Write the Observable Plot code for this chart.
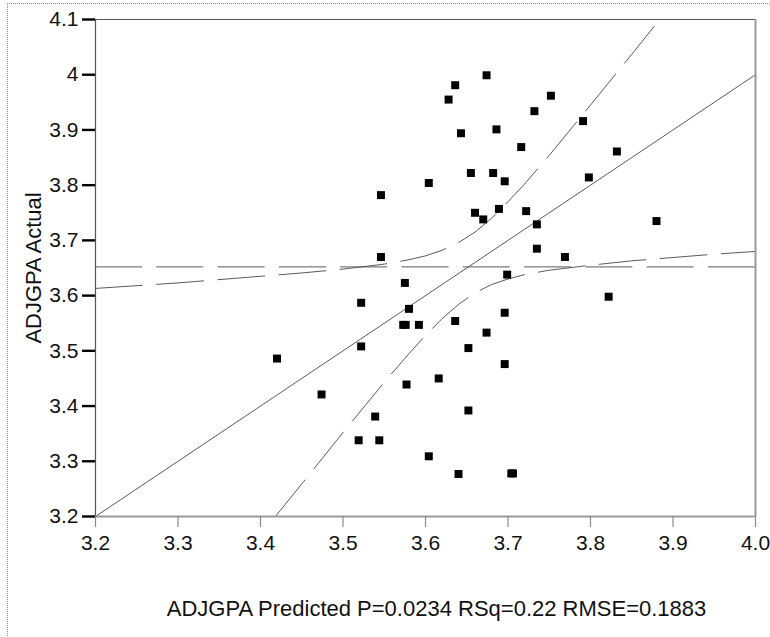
<!DOCTYPE html>
<html>
<head>
<meta charset="utf-8">
<script src="https://cdn.jsdelivr.net/npm/d3@7"></script>
<script src="https://cdn.jsdelivr.net/npm/@observablehq/plot@0.6"></script>
<style>
  html, body { margin: 0; padding: 0; background: #fff; overflow: hidden; }
  #wrap { position: relative; width: 770px; height: 637px; }
  #border { position: absolute; left: 7px; top: 3px; width: 800px; height: 700px;
            border-left: 1px dotted #8a8a8a; border-top: 1px dotted #8a8a8a; }
  #chart { position: absolute; left: 0; top: 0; }
  #chart g[aria-label$="tick label"],
  #chart g[aria-label$="tick label"] text { font-size: 21px !important; }
</style>
</head>
<body>
<div id="wrap"><div id="border"></div><div id="chart"></div></div>
<script>
// Leverage plot: actual vs predicted ADJGPA
const predicted = [3.420, 3.474, 3.519, 3.522, 3.522, 3.539, 3.544, 3.546, 3.546, 3.573,
  3.576, 3.575, 3.580, 3.577, 3.592, 3.604, 3.604, 3.616, 3.628, 3.636,
  3.636, 3.640, 3.643, 3.652, 3.652, 3.655, 3.660, 3.670, 3.674, 3.674,
  3.682, 3.686, 3.689, 3.696, 3.696, 3.696, 3.699, 3.704, 3.706, 3.716,
  3.722, 3.732, 3.735, 3.735, 3.752, 3.769, 3.791, 3.798, 3.822, 3.832, 3.880];
const actual = [3.486, 3.421, 3.338, 3.587, 3.508, 3.381, 3.338, 3.782, 3.670, 3.547,
  3.547, 3.623, 3.576, 3.439, 3.547, 3.804, 3.309, 3.450, 3.955, 3.981,
  3.554, 3.277, 3.894, 3.505, 3.392, 3.822, 3.750, 3.738, 3.999, 3.533,
  3.822, 3.901, 3.757, 3.807, 3.569, 3.476, 3.638, 3.278, 3.278, 3.869,
  3.753, 3.934, 3.729, 3.685, 3.962, 3.670, 3.916, 3.814, 3.598, 3.861, 3.735];

// Fit line (actual = predicted) and mean of the response
const fitLine = [[3.2, 3.2], [4.0, 4.0]];
const meanActual = 3.652;

// Confidence curves around the fit, [predicted, actual]
const upperBand = [[3.2, 3.613], [3.3, 3.623], [3.4, 3.635], [3.45, 3.641], [3.5, 3.648],
  [3.55, 3.657], [3.58, 3.665], [3.6, 3.672], [3.62, 3.682], [3.64, 3.696],
  [3.66, 3.715], [3.68, 3.740], [3.7, 3.770], [3.72, 3.802], [3.75, 3.854],
  [3.8, 3.945], [3.85, 4.037], [3.884, 4.1]];
const lowerBand = [[3.418, 3.2], [3.45, 3.259], [3.5, 3.352], [3.55, 3.443], [3.58, 3.495],
  [3.6, 3.528], [3.62, 3.558], [3.64, 3.584], [3.66, 3.605], [3.68, 3.620],
  [3.7, 3.630], [3.72, 3.638], [3.75, 3.646], [3.8, 3.655], [3.85, 3.663],
  [3.9, 3.669], [3.95, 3.675], [4.0, 3.680]];

const xTicks = [3.2, 3.3, 3.4, 3.5, 3.6, 3.7, 3.8, 3.9, 4.0];
const xTickLabels = ["3.2", "3.3", "3.4", "3.5", "3.6", "3.7", "3.8", "3.9", "4.0"];
const yTicks = [3.2, 3.3, 3.4, 3.5, 3.6, 3.7, 3.8, 3.9, 4.0, 4.1];
const yTickLabels = ["3.2", "3.3", "3.4", "3.5", "3.6", "3.7", "3.8", "3.9", "4", "4.1"];

const xTitle = "ADJGPA Predicted P=0.0234 RSq=0.22 RMSE=0.1883";
const yTitle = "ADJGPA Actual";

const points = predicted.map((p, i) => ({predicted: p, actual: actual[i]}));
const xLabelOf = new Map(xTicks.map((t, i) => [t, xTickLabels[i]]));
const yLabelOf = new Map(yTicks.map((t, i) => [t, yTickLabels[i]]));
const lineColor = "#5a5a5a";
const dash = "47,14.3";

const chart = Plot.plot({
  width: 770,
  height: 637,
  marginLeft: 95,
  marginRight: 15,
  marginTop: 19,
  marginBottom: 121,
  style: {fontFamily: "'Liberation Sans', Arial, sans-serif", fontSize: "21px", background: "transparent"},
  x: {domain: [xTicks[0], xTicks[xTicks.length - 1]], label: null},
  y: {domain: [yTicks[0], yTicks[yTicks.length - 1]], label: null},
  marks: [
    // mean line and confidence curves
    Plot.ruleY([meanActual], {stroke: lineColor, strokeWidth: 1, strokeDasharray: dash}),
    Plot.line(upperBand, {x: d => d[0], y: d => d[1], stroke: lineColor, strokeWidth: 1, strokeDasharray: dash, clip: true}),
    Plot.line(lowerBand, {x: d => d[0], y: d => d[1], stroke: lineColor, strokeWidth: 1, strokeDasharray: dash, clip: true}),
    // fit line
    Plot.line(fitLine, {x: d => d[0], y: d => d[1], stroke: lineColor, strokeWidth: 1}),
    // observations
    Plot.dot(points, {x: "predicted", y: "actual", symbol: "square", r: 4.5, fill: "#000", stroke: "none"}),
    // frame
    Plot.ruleY([yTicks[yTicks.length - 1]], {stroke: "#555", strokeWidth: 1.2}),
    Plot.ruleX([xTicks[0]], {stroke: "#555", strokeWidth: 1.2}),
    Plot.ruleX([xTicks[xTicks.length - 1]], {stroke: "#9a9a9a", strokeWidth: 2}),
    Plot.ruleY([yTicks[0]], {stroke: "#9a9a9a", strokeWidth: 2}),
    // axes
    Plot.axisX(xTicks, {tickSize: 11, tickPadding: 8, stroke: "#8a8a8a", strokeWidth: 1.2, tickFormat: d => xLabelOf.get(d), fill: "#111", fontSize: 21, label: null}),
    Plot.axisY(yTicks, {tickSize: 13, tickPadding: 4, stroke: "#000", strokeWidth: 2.4, tickFormat: d => yLabelOf.get(d), fill: "#111", fontSize: 21, label: null}),
    // axis titles
    Plot.text([xTitle], {text: d => d, frameAnchor: "bottom", dx: 11, dy: 99, fontSize: 22, fill: "#111"}),
    Plot.text([yTitle], {text: d => d, frameAnchor: "left", textAnchor: "middle", dx: -62, rotate: -90, fontSize: 22, fill: "#111"})
  ]
});
document.getElementById("chart").appendChild(chart);
</script>
</body>
</html>
